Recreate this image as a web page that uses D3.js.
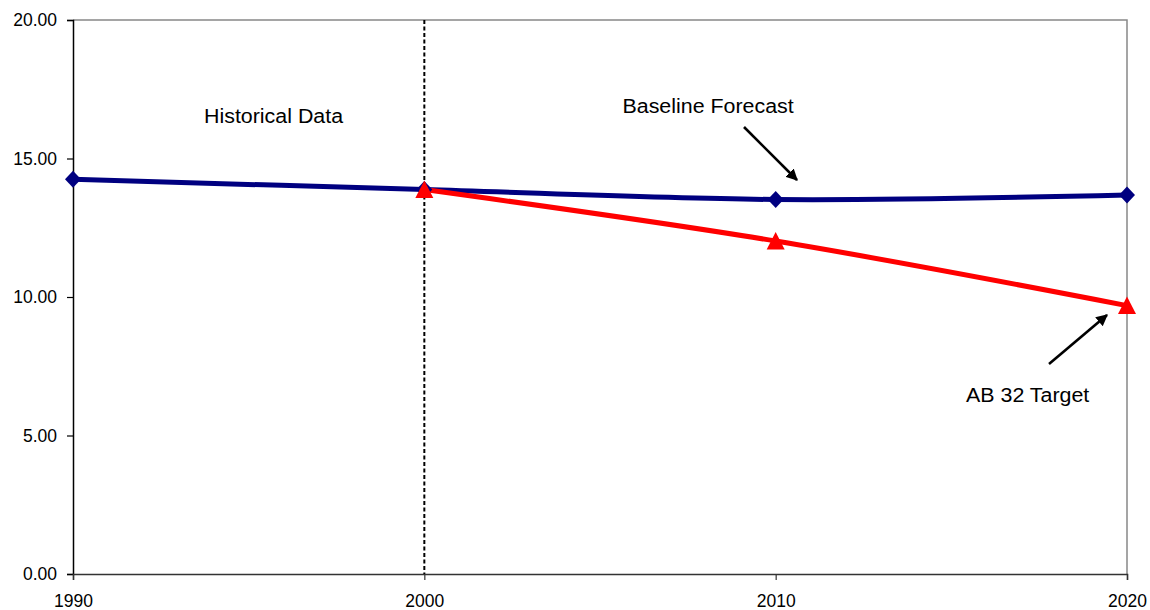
<!DOCTYPE html>
<html>
<head>
<meta charset="utf-8">
<script src="https://cdn.jsdelivr.net/npm/d3@7"></script>
<style>
  html, body { margin: 0; padding: 0; background: #fff; }
  svg { display: block; font-family: "Liberation Sans", Arial, sans-serif; }
  .axis text { font-size: 17.5px; fill: #000; font-family: "Liberation Sans", Arial, sans-serif; }
</style>
</head>
<body>
<svg id="chart" width="1150" height="610"></svg>
<script>
// Per-capita emissions: historical and projected
const years = [1990, 2000, 2010, 2020];
const baseline = [14.25, 13.88, 13.52, 13.68];
const targetYears = [2000, 2010, 2020];
const target = [13.88, 12.02, 9.69];
const yTicks = [0, 5, 10, 15, 20];

const svg = d3.select("#chart");
const margin = { left: 73, right: 23, top: 20, bottom: 36 };
const W = 1150, H = 610;

const x = d3.scaleLinear().domain([1990, 2020]).range([margin.left, W - margin.right]);
const y = d3.scaleLinear().domain([0, 20]).range([H - margin.bottom, margin.top]);

// plot frame (top and right edges)
svg.append("path")
  .attr("d", `M${x(1990)},${y(20)}H${x(2020)}V${y(0)}`)
  .attr("fill", "none").attr("stroke", "#888").attr("stroke-width", 1.5);

// y axis
const yAxis = svg.append("g").attr("class", "axis")
  .attr("transform", `translate(${x(1990)},0)`)
  .call(d3.axisLeft(y).tickValues(yTicks).tickFormat(d3.format(".2f")).tickSize(6).tickPadding(10));
yAxis.attr("font-size", null).attr("font-family", null);
yAxis.select(".domain").attr("stroke", "#000").attr("stroke-width", 1.5);
yAxis.selectAll(".tick line").attr("stroke", "#000").attr("stroke-width", 1.2);

// x axis
const xAxis = svg.append("g").attr("class", "axis")
  .attr("transform", `translate(0,${y(0)})`)
  .call(d3.axisBottom(x).tickValues(years).tickFormat(d3.format("d")).tickSize(6).tickPadding(15));
xAxis.attr("font-size", null).attr("font-family", null);
xAxis.select(".domain").attr("stroke", "#333").attr("stroke-width", 1.5);
xAxis.selectAll(".tick line").attr("stroke", "#333").attr("stroke-width", 1.2);

// divider between historical and forecast periods
svg.append("line")
  .attr("x1", x(2000)).attr("x2", x(2000))
  .attr("y1", y(20)).attr("y2", y(0))
  .attr("stroke", "#000").attr("stroke-width", 2)
  .attr("stroke-dasharray", "4,2.5");

const line = d3.line().curve(d3.curveCatmullRom.alpha(0.5));

// baseline series
const basePts = years.map((yr, i) => [x(yr), y(baseline[i])]);
svg.append("path").attr("d", line(basePts))
  .attr("fill", "none").attr("stroke", "#000080").attr("stroke-width", 5);

// target series
const tgtPts = targetYears.map((yr, i) => [x(yr), y(target[i])]);
svg.append("path").attr("d", line(tgtPts))
  .attr("fill", "none").attr("stroke", "#ff0000").attr("stroke-width", 5);

// diamond markers
svg.selectAll(".dia").data(basePts).join("path")
  .attr("transform", d => `translate(${d[0]},${d[1]})`)
  .attr("d", "M0,-8.5L8,0L0,8.5L-8,0Z")
  .attr("fill", "#000080");

// triangle markers
svg.selectAll(".tri").data(tgtPts).join("path")
  .attr("transform", d => `translate(${d[0]},${d[1]})`)
  .attr("d", "M0,-9L9,8.5L-9,8.5Z")
  .attr("fill", "#ff0000");

// arrowhead
const defs = svg.append("defs");
defs.append("marker").attr("id", "arrow")
  .attr("viewBox", "0 0 10 10").attr("refX", 9).attr("refY", 5)
  .attr("markerWidth", 4.5).attr("markerHeight", 4.5).attr("orient", "auto")
  .attr("markerUnits", "strokeWidth")
  .append("path").attr("d", "M0,0L10,5L0,10Z").attr("fill", "#000");

// annotations
const notes = [
  { text: "Historical Data", x: 204, y: 122.5 },
  { text: "Baseline Forecast", x: 622.5, y: 112.5 },
  { text: "AB 32 Target", x: 966, y: 401.5 }
];
svg.selectAll(".note").data(notes).join("text")
  .attr("transform", d => `translate(${d.x},${d.y}) scale(1.07,1)`)
  .attr("font-size", 20).attr("fill", "#000")
  .text(d => d.text);

const arrows = [
  [[744, 127], [797, 180]],
  [[1049, 364], [1107, 315]]
];
svg.selectAll(".arr").data(arrows).join("line")
  .attr("x1", d => d[0][0]).attr("y1", d => d[0][1])
  .attr("x2", d => d[1][0]).attr("y2", d => d[1][1])
  .attr("stroke", "#000").attr("stroke-width", 2.6)
  .attr("marker-end", "url(#arrow)");
</script>
</body>
</html>
